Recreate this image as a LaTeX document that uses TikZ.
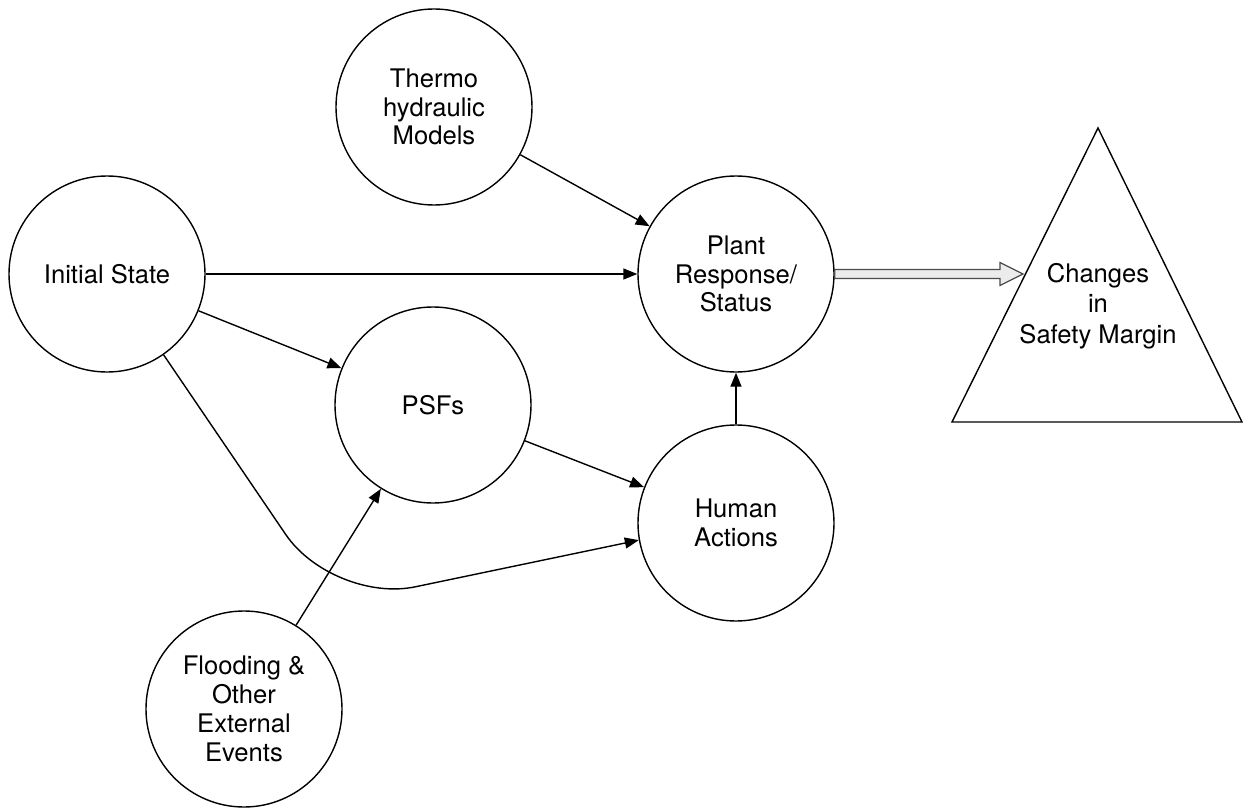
\documentclass[tikz,border=0pt]{standalone}
\usepackage{fontspec}
\setmainfont{TeX Gyre Heros}
\usetikzlibrary{arrows.meta,calc}
\begin{document}
\begin{tikzpicture}[x=0.5pt,y=-0.5pt,
  circ/.style={circle, draw, line width=0.7pt, minimum size=98pt, inner sep=0pt, align=center, font=\fontsize{12.8}{14.4}\selectfont},
  conn/.style={line width=0.7pt, -{Triangle[length=7pt,width=5.5pt]}},
  label text/.style={align=center, font=\fontsize{12.8}{15.3}\selectfont},
  hollow/.style={fill=gray!15, draw=black!70, line width=0.6pt, line join=miter}
]
\useasboundingbox (0,0) rectangle (1243,808);
\node[circ] (thermo) at (434,107) {Thermo\\hydraulic\\Models};
\node[circ] (init) at (107,274) {Initial State};
\node[circ] (plant) at (736,274) {Plant\\Response/\\Status};
\node[circ] (psf) at (433,405) {PSFs};
\node[circ] (human) at (736,523) {Human\\Actions};
\node[circ] (flood) at (244,709) {Flooding \&\\Other\\External\\Events};

\coordinate (apex) at (1098,128);
\coordinate (bl) at (952,422);
\coordinate (br) at (1242,422);
\draw[line width=0.7pt] (apex) -- (bl) -- (br) -- cycle;
\node[label text] (tri) at (1098,306) {Changes\\in\\Safety Margin};

\draw[conn] (thermo) -- (plant);
\draw[conn] (init) -- (plant);
\draw[conn] (init) -- (psf);
\draw[conn] (psf) -- (human);
\draw[conn] (human) -- (plant);
\draw[conn] (flood) -- (psf);
\coordinate (bend) at (333,604);
\draw[conn, rounded corners=42pt] (init.-55) -- (bend) -- (human.190);

\coordinate (tip) at (1023,274);
\draw[hollow] ($(plant.east)+(0,-4.5)$) -- ($(tip)+(-23,-4.5)$) -- ($(tip)+(-23,-11.5)$) -- (tip)
  -- ($(tip)+(-23,11.5)$) -- ($(tip)+(-23,4.5)$) -- ($(plant.east)+(0,4.5)$) -- cycle;
\end{tikzpicture}
\end{document}
